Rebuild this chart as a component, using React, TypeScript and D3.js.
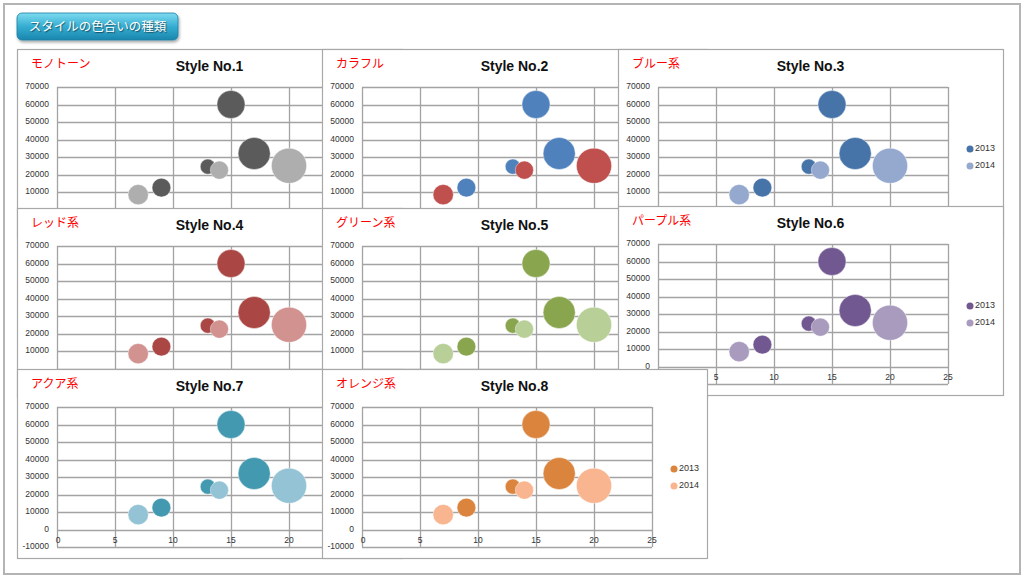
import React from 'react';
import * as d3 from 'd3';

// bubble data, same in every style
const seriesNames = ['2013', '2014'];
const x2013 = [9, 13, 15, 17];
const y2013 = [12500, 24500, 60000, 32000];
const s2013 = [85, 55, 190, 250];
const x2014 = [7, 14, 20];
const y2014 = [8500, 22500, 25000];
const s2014 = [100, 80, 300];

const xTicks = [0, 5, 10, 15, 20, 25];
const yTicks = [70000, 60000, 50000, 40000, 30000, 20000, 10000, 0, -10000];

const styleTitles = ['Style No.1', 'Style No.2', 'Style No.3', 'Style No.4', 'Style No.5', 'Style No.6', 'Style No.7', 'Style No.8'];
const styleLabels = ['モノトーン', 'カラフル', 'ブルー系', 'レッド系', 'グリーン系', 'パープル系', 'アクア系', 'オレンジ系'];
const colors2013 = ['#5b5b5b', '#4f81bd', '#4673a8', '#aa4644', '#89a54e', '#725891', '#4399b0', '#db843d'];
const colors2014 = ['#aeaeae', '#c0504d', '#95a9cf', '#d29290', '#b8cf98', '#a99bbe', '#93c3d4', '#f8b58f'];

// where each chart object sits on the sheet (later ones lie on top)
const panelPos = [
  [17, 49], [322, 49], [618, 49],
  [17, 208], [322, 208], [618, 206],
  [17, 369], [322, 369],
];
const PW = 385;
const PH = 189;

const numFont = '"Liberation Sans", Arial, sans-serif';
const jpFont = '"Noto Sans CJK JP", sans-serif';

// true when a point is covered by a chart drawn after chart i
function covered(i: number, x: number, y: number, pad = 1) {
  for (let j = i + 1; j < panelPos.length; j++) {
    const [qx, qy] = panelPos[j];
    if (x > qx - pad && x < qx + PW + pad && y > qy - pad && y < qy + PH + pad) return true;
  }
  return false;
}

function Panel({ i }: { i: number }) {
  const [px, py] = panelPos[i];
  const left = px + 40;
  const top = py + 38;
  const x = d3.scaleLinear().domain([0, 25]).range([left, left + 290]);
  const y = d3.scaleLinear().domain([-10000, 70000]).range([top + 140, top]);
  const r = d3.scaleSqrt().domain([0, 300]).range([0, 17.6]);

  const series = [
    { name: seriesNames[0], color: colors2013[i], pts: x2013.map((v, k) => ({ x: v, y: y2013[k], s: s2013[k] })) },
    { name: seriesNames[1], color: colors2014[i], pts: x2014.map((v, k) => ({ x: v, y: y2014[k], s: s2014[k] })) },
  ];

  return (
    <g>
      <rect x={px + 0.5} y={py + 0.5} width={PW} height={PH} fill="#fff" stroke="#a8a8a8" strokeWidth={1.2} />
      <text x={px + 14} y={py + 16} fill="#ff0000" fontFamily={jpFont} fontSize={12} dominantBaseline="middle">
        {styleLabels[i]}
      </text>
      <text x={px + PW / 2} y={py + 18} fill="#111" fontFamily={numFont} fontWeight="bold" fontSize={14} textAnchor="middle" dominantBaseline="middle">
        {styleTitles[i]}
      </text>
      {yTicks.map((t) => (
        <line key={'h' + t} x1={x(0)} x2={x(25)} y1={Math.round(y(t)) + 0.5} y2={Math.round(y(t)) + 0.5} stroke="#a3a3a3" strokeWidth={1.3} />
      ))}
      {xTicks.map((t) => (
        <line key={'v' + t} x1={Math.round(x(t)) + 0.5} x2={Math.round(x(t)) + 0.5} y1={y(70000)} y2={y(-10000)} stroke="#a3a3a3" strokeWidth={1.3} />
      ))}
      {yTicks
        .filter((t) => !covered(i, x(0) - 20, y(t)))
        .map((t) => (
          <text key={'yl' + t} x={x(0) - 8} y={y(t)} fill="#333" fontFamily={numFont} fontSize={8.5} textAnchor="end" dominantBaseline="middle">
            {t}
          </text>
        ))}
      {xTicks
        .filter((t) => !covered(i, x(t), y(0) + 12))
        .map((t) => (
          <text key={'xl' + t} x={x(t) + (t === 0 ? 1 : 0)} y={y(0) + 11} fill="#333" fontFamily={numFont} fontSize={8.5} textAnchor="middle" dominantBaseline="middle">
            {t}
          </text>
        ))}
      {series.map((s) => (
        <g key={s.name}>
          {s.pts.map((p, k) => (
            <circle key={k} cx={x(p.x)} cy={y(p.y)} r={r(p.s)} fill={s.color} stroke="#fff" strokeOpacity={0.5} strokeWidth={0.8} />
          ))}
        </g>
      ))}
      {series
        .map((s, k) => ({ s, k }))
        .filter(({ k }) => !covered(i, px + 360, py + 100 + k * 17))
        .map(({ s, k }) => (
          <g key={'lg' + s.name}>
            <circle cx={px + 352} cy={py + 100 + k * 17} r={3.5} fill={s.color} />
            <text x={px + 357} y={py + 100 + k * 17} fill="#333" fontFamily={numFont} fontSize={9} dominantBaseline="middle">
              {s.name}
            </text>
          </g>
        ))}
    </g>
  );
}

export default function App() {
  return (
    <svg width={1024} height={577} style={{ position: 'absolute', left: 0, top: 0, background: '#fff' }}>
      <defs>
        <linearGradient id="btn" x1="0" y1="0" x2="0" y2="1">
          <stop offset="0" stopColor="#7fdcf0" />
          <stop offset="0.5" stopColor="#35add2" />
          <stop offset="1" stopColor="#1a86ad" />
        </linearGradient>
        <filter id="sh" x="-10%" y="-20%" width="120%" height="160%">
          <feDropShadow dx="1" dy="2" stdDeviation="1.5" floodColor="#000" floodOpacity="0.35" />
        </filter>
      </defs>
      <rect x={0} y={0} width={1024} height={577} fill="#fff" />
      <rect x={4} y={4} width={1016} height={570} fill="none" stroke="#b4b4b4" strokeWidth={2} />
      <rect x={17} y={13} width={161} height={27} rx={5} fill="url(#btn)" stroke="#1b7fa3" strokeWidth={0.8} filter="url(#sh)" />
      <text x={97.5} y={27.5} fill="#fff" fontFamily={jpFont} fontSize={12.5} textAnchor="middle" dominantBaseline="middle" style={{ textShadow: '1px 1px 1px rgba(0,0,0,0.5)' }}>
        スタイルの色合いの種類
      </text>
      {panelPos.map((_, i) => (
        <Panel key={i} i={i} />
      ))}
    </svg>
  );
}
